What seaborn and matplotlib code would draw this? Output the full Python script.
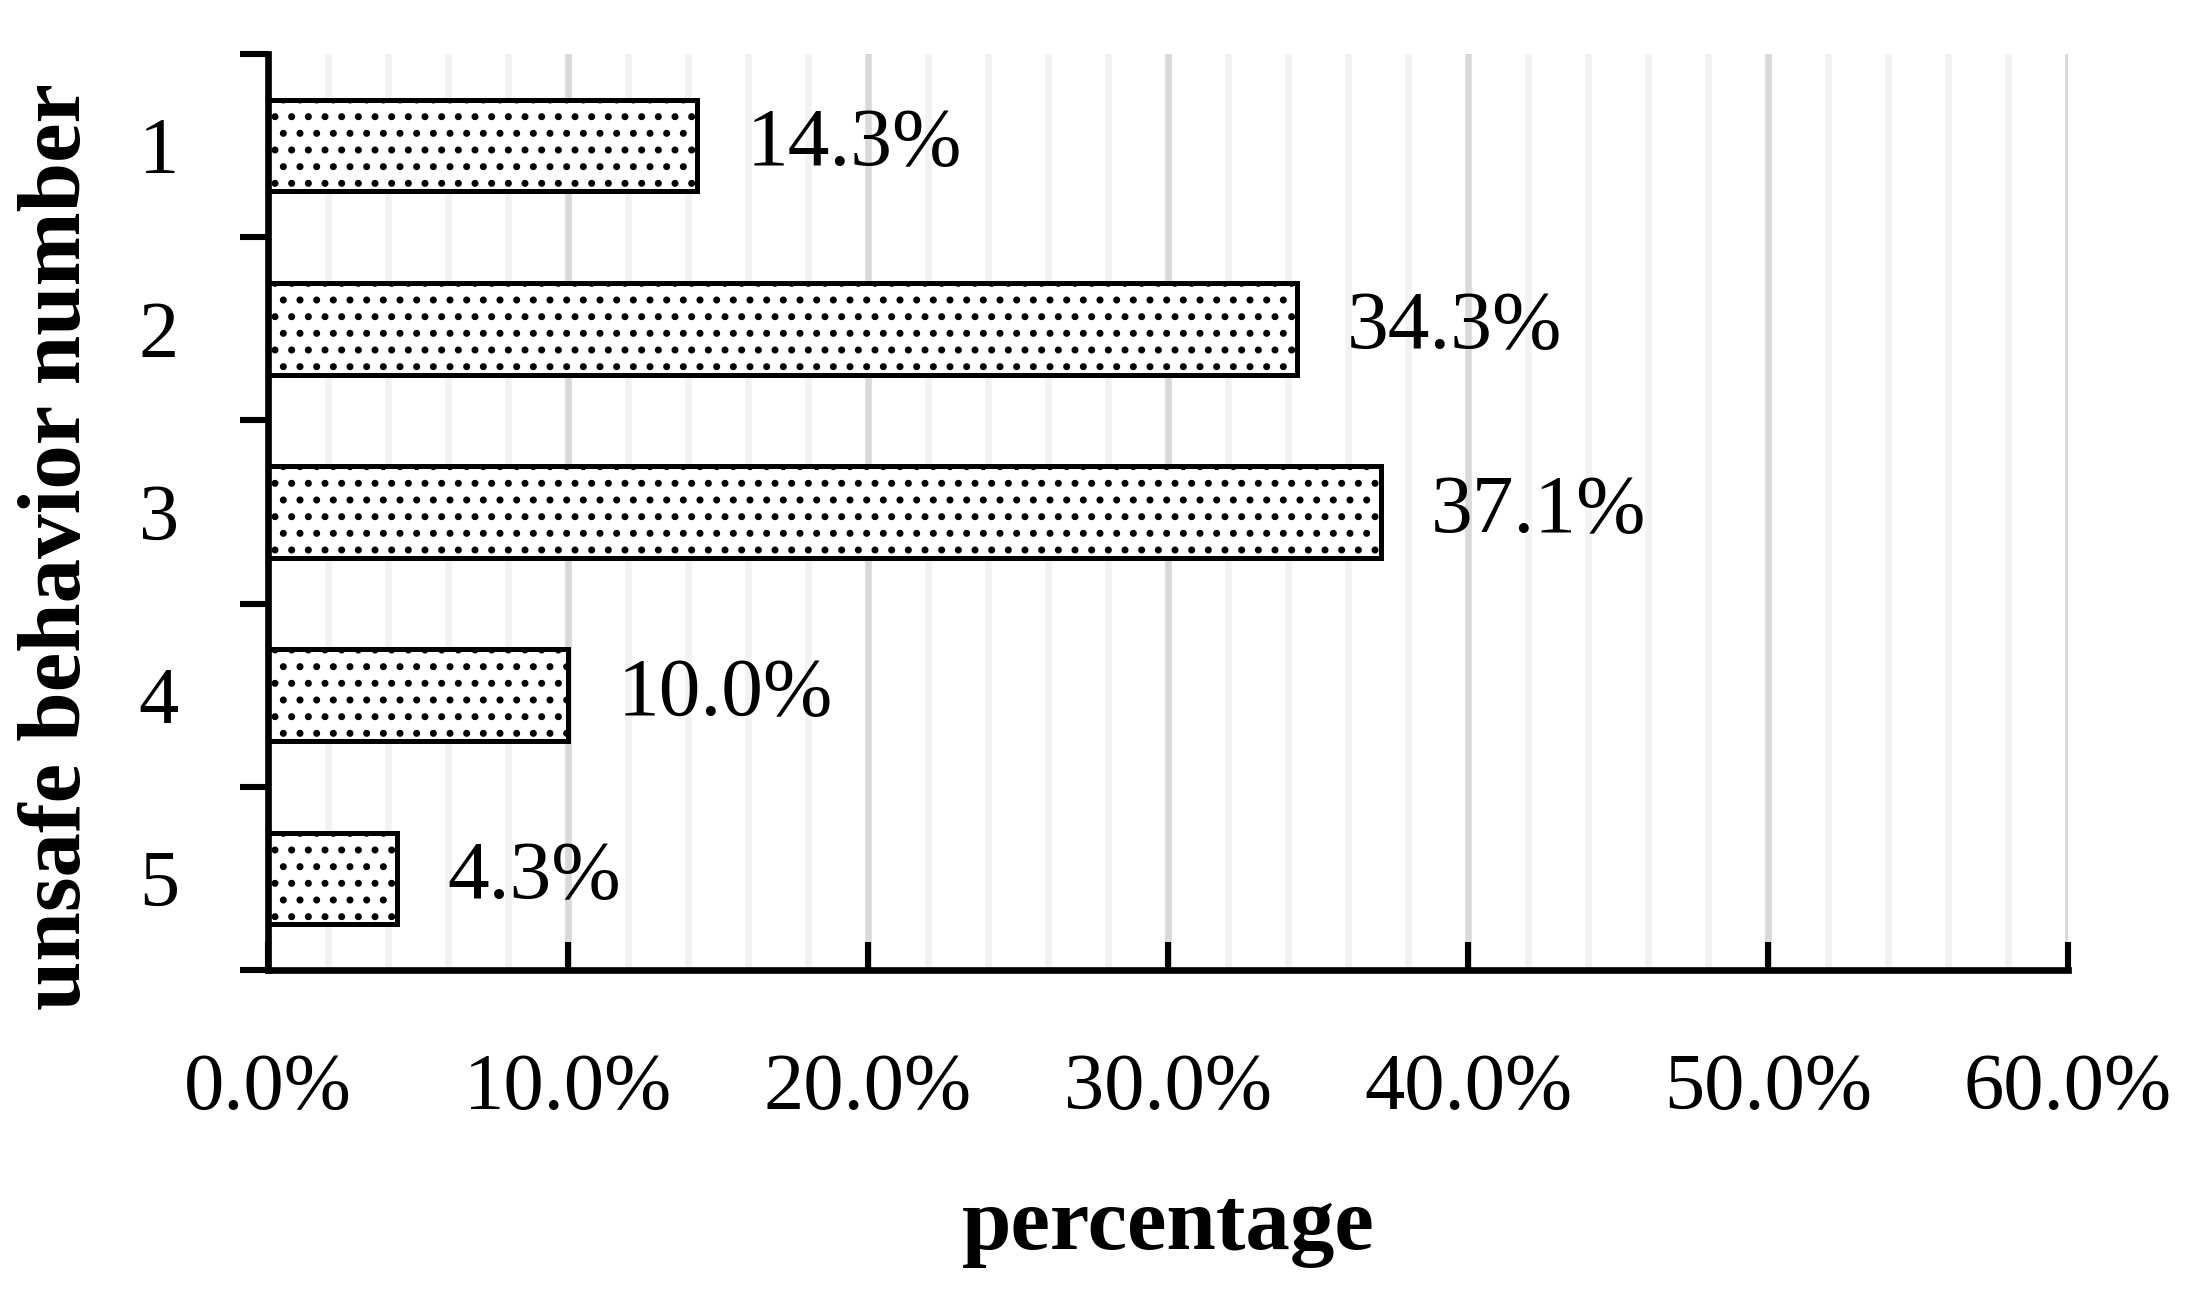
import numpy as np
import pandas as pd
import matplotlib
matplotlib.use("Agg")
import matplotlib.pyplot as plt
import seaborn as sns
from matplotlib.ticker import MultipleLocator

# ---- data ----
categories = ["1", "2", "3", "4", "5"]
values = [14.3, 34.3, 37.1, 10.0, 4.3]
value_labels = ["14.3%", "34.3%", "37.1%", "10.0%", "4.3%"]
x_ticks = [0, 10, 20, 30, 40, 50, 60]
x_title = "percentage"
y_title = "unsafe behavior number"

sns.set_theme(style="white")
plt.rcParams["font.family"] = ["Liberation Serif", "DejaVu Serif"]
plt.rcParams["hatch.linewidth"] = 1.3
plt.rcParams["hatch.color"] = "black"
plt.rcParams["text.color"] = "black"
plt.rcParams["axes.labelcolor"] = "black"
plt.rcParams["xtick.color"] = "black"
plt.rcParams["ytick.color"] = "black"

df = pd.DataFrame({"cat": categories, "val": values})

fig = plt.figure(figsize=(11.02, 6.475), dpi=200)
ax = fig.add_axes([0.1216, 0.251, 0.8167, 0.7074])

sns.barplot(data=df, x="val", y="cat", order=categories, orient="h",
            width=0.5, color="white", edgecolor="black", linewidth=1.8,
            saturation=1, ax=ax, zorder=3)
for p in ax.patches:
    p.set_hatch("..")
    p.set_facecolor("white")
    p.set_edgecolor("black")
    p.set_zorder(3)

ax.set_xlim(0, 60)
ax.set_ylim(4.5, -0.5)

# x ticks / grid
ax.set_xticks(x_ticks)
ax.set_xticklabels([f"{t:.1f}%" for t in x_ticks])
ax.xaxis.set_minor_locator(MultipleLocator(2))
ax.grid(False)
ax.grid(axis="x", which="minor", color="#f2f2f2", linewidth=2.4, zorder=0)
ax.grid(axis="x", which="major", color="#d9d9d9", linewidth=2.4, zorder=1)
ax.set_axisbelow(True)
ax.tick_params(axis="x", which="major", direction="in", length=10, width=2.2,
               color="black", labelcolor="black", labelsize=29, pad=30,
               top=False, bottom=True)
ax.tick_params(axis="x", which="minor", length=0)

# y ticks: marks at category boundaries, labels at centres
ax.set_yticks(np.arange(-0.5, len(categories), 1.0))
ax.set_yticklabels([])
ax.set_yticks(np.arange(len(categories)), minor=True)
ax.set_yticklabels(categories, minor=True)
ax.tick_params(axis="y", which="major", direction="out", length=10, width=2.2,
               color="black", left=True)
ax.tick_params(axis="y", which="minor", length=0, labelsize=29, pad=32,
               labelcolor="black")

for s in ["top", "right"]:
    ax.spines[s].set_visible(False)
for s in ["left", "bottom"]:
    ax.spines[s].set_color("black")
    ax.spines[s].set_linewidth(2.4)
    ax.spines[s].set_zorder(5)

# value labels
for i, (v, lab) in enumerate(zip(values, value_labels)):
    ax.annotate(lab, xy=(v, i), xytext=(18, 0), textcoords="offset points",
                ha="left", va="center", fontsize=30, color="black")

ax.set_xlabel(x_title, fontsize=32, fontweight="bold", labelpad=22, color="black")
ax.set_ylabel(y_title, fontsize=32, fontweight="bold", color="black")
ax.yaxis.set_label_coords(-0.094, 0.462)

fig.savefig("out.png", dpi=200, facecolor="white")
